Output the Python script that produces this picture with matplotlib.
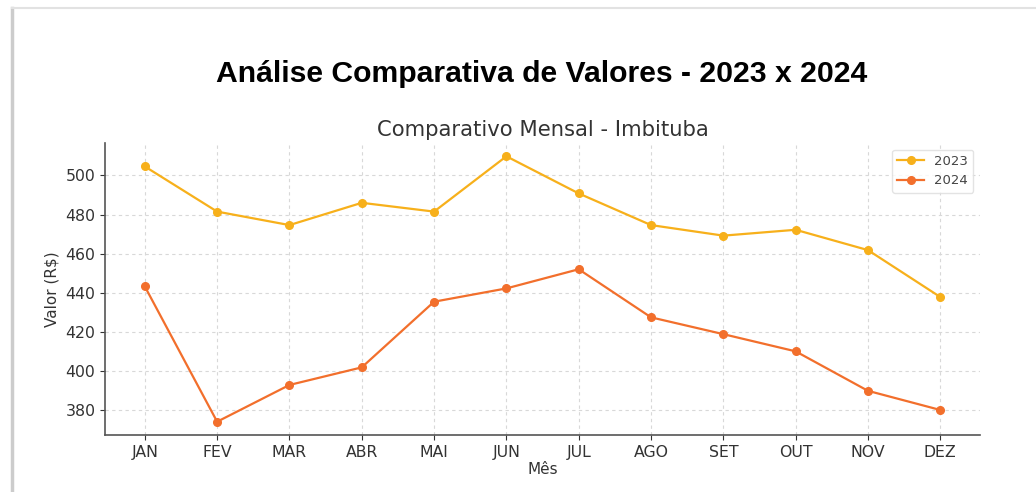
import matplotlib
matplotlib.use("Agg")
import matplotlib.pyplot as plt
from matplotlib.lines import Line2D

months = ["JAN", "FEV", "MAR", "ABR", "MAI", "JUN", "JUL", "AGO", "SET", "OUT", "NOV", "DEZ"]
values_2023 = [504.6, 481.5, 474.6, 486.0, 481.5, 509.8, 490.8, 474.6, 469.2, 472.2, 461.8, 437.8]
values_2024 = [443.2, 374.0, 392.8, 401.8, 435.4, 442.2, 452.0, 427.4, 418.8, 410.0, 389.8, 380.0]

c2023 = "#F7B01B"
c2024 = "#F26F2C"

fig = plt.figure(figsize=(10.36, 4.92), dpi=100)
fig.patch.set_facecolor("white")

ax = fig.add_axes([0.1014, 0.1159, 0.8446, 0.5934])
x = list(range(len(months)))
ax.plot(x, values_2023, marker="o", color=c2023, lw=1.6, ms=5.5, label="2023")
ax.plot(x, values_2024, marker="o", color=c2024, lw=1.6, ms=5.5, label="2024")
ax.set_xticks(x)
ax.set_xticklabels(months)
ax.grid(True, linestyle=(0, (3, 3)), color="#d8d8d8", lw=0.8)
ax.set_axisbelow(True)
for s in ["top", "right"]:
    ax.spines[s].set_visible(False)
for s in ["left", "bottom"]:
    ax.spines[s].set_color("#555555")
    ax.spines[s].set_linewidth(1.2)
ax.tick_params(labelsize=11.3, colors="#333333")
ax.set_xlabel("Mês", fontsize=11, color="#333333", labelpad=2)
ax.set_ylabel("Valor (R$)", fontsize=11, color="#333333")
ax.set_title("Comparativo Mensal - Imbituba", fontsize=15.2, color="#333333", pad=5)
leg = ax.legend(loc="upper right", fontsize=9.5, frameon=True, labelcolor="#444444")
leg.get_frame().set_edgecolor("#dddddd")

fig.text(0.523, 0.849, "Análise Comparativa de Valores - 2023 x 2024", ha="center", va="center",
         fontsize=21.7, fontweight="bold", family="Liberation Sans", color="black")

# screenshot frame
fig.add_artist(Line2D([12/1036, 12/1036], [0, 1 - 8/492], transform=fig.transFigure, color="#cccccc", lw=2.5))
fig.add_artist(Line2D([12/1036, 1], [1 - 8/492, 1 - 8/492], transform=fig.transFigure, color="#e2e2e2", lw=1.5))

fig.savefig("out.png", dpi=100, facecolor="white")
